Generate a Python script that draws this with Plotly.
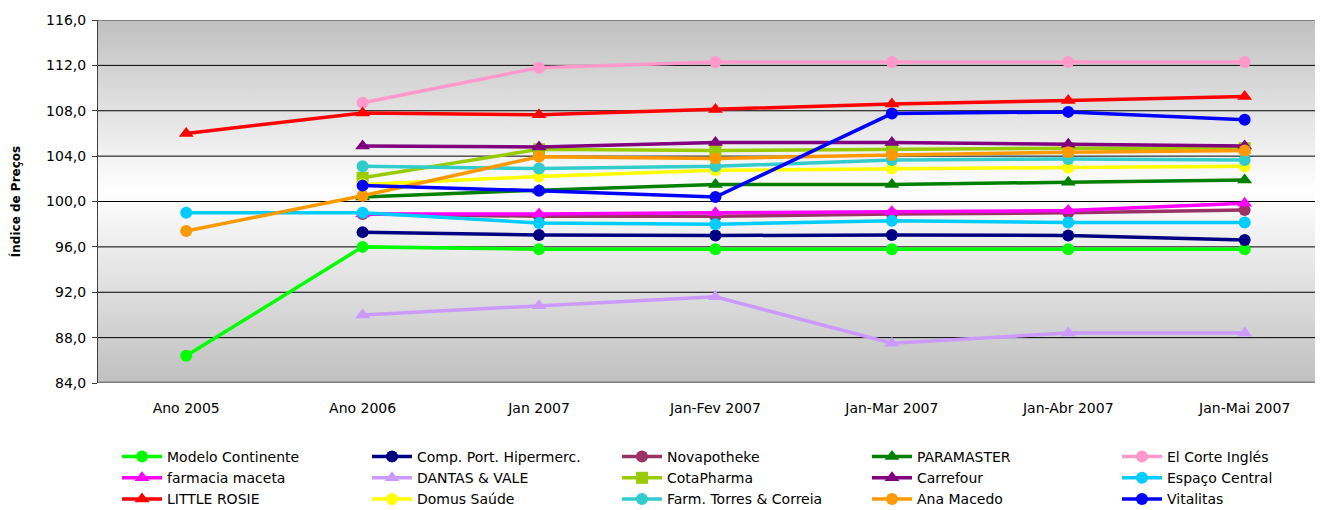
import plotly.graph_objects as go

categories = ["Ano 2005", "Ano 2006", "Jan 2007", "Jan-Fev 2007", "Jan-Mar 2007", "Jan-Abr 2007", "Jan-Mai 2007"]

modelo_continente = [86.4, 96.0, 95.8, 95.8, 95.8, 95.8, 95.8]
comp_port_hipermerc = [None, 97.3, 97.05, 97.0, 97.05, 97.0, 96.6]
novapotheke = [None, 98.9, 98.7, 98.7, 98.9, 99.0, 99.25]
paramaster = [None, 100.4, 101.0, 101.5, 101.5, 101.7, 101.9]
el_corte_ingles = [None, 108.7, 111.8, 112.3, 112.3, 112.3, 112.3]
farmacia_maceta = [None, 98.9, 98.9, 99.0, 99.1, 99.2, 99.85]
dantas_vale = [None, 90.0, 90.8, 91.6, 87.5, 88.4, 88.4]
cotapharma = [None, 102.1, 104.6, 104.5, 104.6, 104.7, 104.7]
carrefour = [None, 104.9, 104.8, 105.2, 105.2, 105.05, 104.9]
espaco_central = [99.0, 99.0, 98.1, 98.0, 98.3, 98.15, 98.15]
little_rosie = [106.0, 107.8, 107.65, 108.1, 108.6, 108.9, 109.25]
domus_saude = [None, 101.5, 102.2, 102.75, 102.9, 103.0, 103.1]
farm_torres_correia = [None, 103.1, 102.9, 103.1, 103.65, 103.75, 103.65]
ana_macedo = [97.4, 100.5, 103.95, 103.8, 104.1, 104.35, 104.5]
vitalitas = [None, 101.4, 100.95, 100.4, 107.75, 107.9, 107.2]

series = [
    ("Modelo Continente", modelo_continente, "#00FF00", "circle"),
    ("Comp. Port. Hipermerc.", comp_port_hipermerc, "#000080", "circle"),
    ("Novapotheke", novapotheke, "#993366", "circle"),
    ("PARAMASTER", paramaster, "#008000", "triangle-up"),
    ("El Corte Inglés", el_corte_ingles, "#FF99CC", "circle"),
    ("farmacia maceta", farmacia_maceta, "#FF00FF", "triangle-up"),
    ("DANTAS & VALE", dantas_vale, "#CC99FF", "triangle-up"),
    ("CotaPharma", cotapharma, "#99CC00", "square"),
    ("Carrefour", carrefour, "#800080", "triangle-up"),
    ("Espaço Central", espaco_central, "#00CCFF", "circle"),
    ("LITTLE ROSIE", little_rosie, "#FF0000", "triangle-up"),
    ("Domus Saúde", domus_saude, "#FFFF00", "circle"),
    ("Farm. Torres & Correia", farm_torres_correia, "#33CCCC", "circle"),
    ("Ana Macedo", ana_macedo, "#FF9900", "circle"),
    ("Vitalitas", vitalitas, "#0000FF", "circle"),
]

y_ticks = [84, 88, 92, 96, 100, 104, 108, 112, 116]
y_tick_labels = ["84,0", "88,0", "92,0", "96,0", "100,0", "104,0", "108,0", "112,0", "116,0"]

FONT = "DejaVu Sans"
YMIN, YMAX = 84, 116
fig = go.Figure()

# gradient background on the hidden base x axis (0..1 spans the plot width)
fig.add_trace(go.Scatter(
    x=[0, 1, 1, 0, 0], y=[YMIN, YMIN, YMAX, YMAX, YMIN], xaxis="x",
    mode="lines", line=dict(width=0), fill="toself",
    fillgradient=dict(type="vertical",
                      colorscale=[[0.0, "#C0C0C0"], [0.53, "#FFFFFF"], [1.0, "#C0C0C0"]]),
    showlegend=False, hoverinfo="skip",
))
# gridlines (under the data)
for v in y_ticks[1:-1]:
    fig.add_trace(go.Scatter(
        x=[0, 1], y=[v, v], xaxis="x", mode="lines",
        line=dict(color="#000000", width=1), showlegend=False, hoverinfo="skip",
    ))

legend_names = ["legend", "legend2", "legend3", "legend4", "legend5"]
for i, (name, vals, color, sym) in enumerate(series):
    fig.add_trace(go.Scatter(
        x=categories, y=vals, name=name, mode="lines+markers", xaxis="x2",
        line=dict(color=color, width=3.5),
        marker=dict(color=color, symbol=sym, size=12 if sym != "triangle-up" else 13),
        legend=legend_names[i % 5],
    ))

shapes = [
    dict(type="line", xref="x domain", yref="y", x0=0, x1=1, y0=YMAX, y1=YMAX,
         line=dict(color="#808080", width=2), layer="above"),
    dict(type="line", xref="x domain", yref="y", x0=0, x1=1, y0=YMIN, y1=YMIN,
         line=dict(color="#808080", width=3), layer="above"),
]

# page body has an 8px margin: the figure is laid out 8px up/left of page coordinates
OFF = 8
W, H = 1323 - OFF, 510 - OFF
ml, mr, mt = 98 - OFF, 0, 20 - OFF
mb = H - (383 - OFF)
pw = W - ml - mr

legend_layout = {}
for k, ln in enumerate(legend_names):
    xpx = 109 + 250 * k
    legend_layout[ln] = dict(
        x=(xpx - ml) / pw, xanchor="left",
        y=1 - 433 / H, yref="container", yanchor="top",
        orientation="v", font=dict(family=FONT, size=14, color="#000000"),
        bgcolor="rgba(0,0,0,0)", itemwidth=40, tracegroupgap=0,
    )

fig.update_layout(
    width=W, height=H,
    margin=dict(l=ml, r=mr, t=mt, b=mb, autoexpand=False),
    paper_bgcolor="#FFFFFF", plot_bgcolor="#FFFFFF",
    shapes=shapes,
    showlegend=True,
    font=dict(family=FONT, size=14, color="#000000"),
    xaxis=dict(range=[0, 1], visible=False, fixedrange=True),
    xaxis2=dict(type="category", categoryorder="array", categoryarray=categories,
                overlaying="x", side="bottom", anchor="y",
                range=[-0.5, 6.444], showgrid=False, zeroline=False, showline=False,
                automargin=False,
                ticks="", ticklabelstandoff=15, tickfont=dict(family=FONT, size=14, color="#000000")),
    yaxis=dict(range=[YMIN, YMAX], tickvals=y_ticks, ticktext=y_tick_labels, showgrid=False,
               zeroline=False, showline=True, linecolor="#404040", linewidth=1,
               automargin=False,
               ticks="outside", ticklen=5, tickcolor="#404040", ticklabelstandoff=3,
               tickfont=dict(family=FONT, size=14, color="#000000"),
               title=dict(text="<b>Índice de Preços</b>", font=dict(family=FONT, size=12, color="#000000"), standoff=28)),
    **legend_layout,
)

fig.write_html("out.html")
